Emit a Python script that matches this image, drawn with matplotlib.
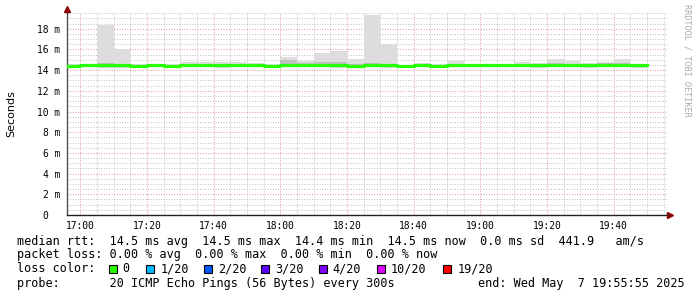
import datetime as dt
import matplotlib
matplotlib.use("Agg")
import matplotlib.pyplot as plt
from matplotlib.patches import Rectangle

# 5 minute bins (start time), values in milliseconds
bin_start = ["16:55", "17:00", "17:05", "17:10", "17:15", "17:20", "17:25", "17:30",
             "17:35", "17:40", "17:45", "17:50", "17:55", "18:00", "18:05", "18:10",
             "18:15", "18:20", "18:25", "18:30", "18:35", "18:40", "18:45", "18:50",
             "18:55", "19:00", "19:05", "19:10", "19:15", "19:20", "19:25", "19:30",
             "19:35", "19:40", "19:45"]
median = [14.4, 14.5, 14.5, 14.5, 14.4, 14.5, 14.4, 14.5, 14.5, 14.5, 14.5, 14.5,
          14.4, 14.5, 14.5, 14.5, 14.5, 14.4, 14.5, 14.5, 14.4, 14.5, 14.4, 14.5,
          14.5, 14.5, 14.5, 14.5, 14.5, 14.5, 14.5, 14.5, 14.5, 14.5, 14.5]
smoke_max = [14.6, 14.6, 18.4, 16.0, 14.6, 14.6, 14.6, 14.75, 14.8, 14.75, 14.75, 14.65,
             14.55, 15.3, 14.9, 15.65, 15.8, 15.05, 19.3, 16.5, 14.5, 14.65, 14.6, 14.9,
             14.6, 14.6, 14.6, 14.8, 14.7, 15.1, 14.9, 14.7, 14.8, 15.1, 14.6]
smoke_hi = [14.5, 14.6, 14.7, 14.6, 14.5, 14.6, 14.5, 14.6, 14.6, 14.6, 14.6, 14.6,
            14.5, 15.0, 14.7, 14.8, 14.8, 14.6, 14.7, 14.6, 14.5, 14.6, 14.5, 14.6,
            14.6, 14.6, 14.6, 14.6, 14.6, 14.7, 14.6, 14.6, 14.7, 14.7, 14.6]
smoke_lo = [14.3, 14.4, 14.3, 14.3, 14.3, 14.4, 14.3, 14.4, 14.4, 14.3, 14.4, 14.4,
            14.3, 14.4, 14.4, 14.4, 14.3, 14.3, 14.4, 14.3, 14.3, 14.4, 14.3, 14.4,
            14.4, 14.4, 14.4, 14.4, 14.3, 14.4, 14.4, 14.3, 14.4, 14.4, 14.3]
smoke_min = [14.2, 14.3, 14.2, 14.2, 14.2, 14.3, 14.2, 14.3, 14.3, 14.2, 14.3, 14.3,
             14.2, 14.3, 14.3, 14.3, 14.2, 14.2, 14.3, 14.2, 14.2, 14.3, 14.2, 14.3,
             14.3, 14.3, 14.3, 14.3, 14.2, 14.3, 14.3, 14.2, 14.3, 14.3, 14.2]
y_ticks = [0, 2, 4, 6, 8, 10, 12, 14, 16, 18]
x_ticks = ["17:00", "17:20", "17:40", "18:00", "18:20", "18:40", "19:00", "19:20", "19:40"]
loss_labels = ["0", "1/20", "2/20", "3/20", "4/20", "10/20", "19/20"]
loss_colors = ["#26ff00", "#00b8ff", "#0059ff", "#5e00ff", "#7e00ff", "#dd00ff", "#ff0000"]

day = dt.date(2025, 5, 7)
def t(s):
    parts = [int(p) for p in s.split(":")]
    while len(parts) < 3:
        parts.append(0)
    return dt.datetime(day.year, day.month, day.day, *parts)

starts = [t(s) for s in bin_start]
edges = starts + [starts[-1] + dt.timedelta(minutes=5)]
t0 = t("16:55:55")
t1 = t("19:55:55")

W, H = 697, 297
fig = plt.figure(figsize=(W / 100, H / 100), dpi=100)
L, R, T, B = 66.7, 666.7, 13.2, 215
ax = fig.add_axes([L / W, 1 - B / H, (R - L) / W, (B - T) / H])

# grid
minor_c = "#c4c4c4"
major_c = "#e49a9a"
dots = (0, (1, 1.6))
cur = t("16:55")
while cur <= t1:
    if cur >= t0:
        c = major_c if cur.minute % 20 == 0 else minor_c
        ax.axvline(cur, color=c, lw=0.72, ls=dots, zorder=0)
    cur += dt.timedelta(minutes=5)
for i in range(1, 40):
    v = i * 0.5
    c = major_c if v % 2 == 0 else minor_c
    ax.axhline(v, color=c, lw=0.72, ls=dots, zorder=0)

# smoke
for i in range(len(starts)):
    ax.fill_between([edges[i], edges[i + 1]], smoke_min[i], smoke_max[i],
                    color="#dddddd", lw=0, zorder=1)
    ax.fill_between([edges[i], edges[i + 1]], smoke_lo[i], smoke_hi[i],
                    color="#bfbfbf", lw=0, zorder=1)

# median line
ax.step(edges, median + [median[-1]], where="post", color="#26ff00", lw=2.3, zorder=3)

ax.set_xlim(t0, t1)
ax.set_ylim(0, 19.5)
ax.set_xticks([t(s) for s in x_ticks])
ax.set_xticklabels(x_ticks)
ax.set_yticks(y_ticks)
ax.set_yticklabels([("%d m" % v) if v else "0  " for v in y_ticks])
ax.tick_params(axis="both", length=0, labelsize=6.9, labelcolor="black")
ax.tick_params(axis="x", pad=4.5)
ax.tick_params(axis="y", pad=4.8)
for lab in ax.get_xticklabels() + ax.get_yticklabels():
    lab.set_family("DejaVu Sans Mono")

for sp in ["top", "right"]:
    ax.spines[sp].set_visible(False)
ax.spines["left"].set_color("#505050")
ax.spines["bottom"].set_color("#202020")
ax.spines["left"].set_linewidth(1.0)
ax.spines["bottom"].set_linewidth(1.0)
ax.plot([0, 0], [1, 1.015], transform=ax.transAxes, color="#505050", lw=1.0, clip_on=False)
ax.plot([0], [1.02], marker="^", ms=4, color="#8b0000", transform=ax.transAxes, clip_on=False)
ax.plot([1, 1.003], [0, 0], transform=ax.transAxes, color="#202020", lw=1.0, clip_on=False)
ax.plot([1.006], [0], marker=">", ms=4, color="#8b0000", transform=ax.transAxes, clip_on=False)

fig.text(11 / W, 1 - 113.5 / H, "Seconds", rotation=90, ha="center", va="center",
         fontsize=8, family="DejaVu Sans")
fig.text(686.5 / W, 1 - 60 / H, "RRDTOOL / TOBI OETIKER", rotation=270, ha="center",
         va="center", fontsize=6.1, family="DejaVu Sans Mono", color="#aaaaaa")

mono = dict(fontsize=8.45, family="DejaVu Sans Mono", va="center", ha="left")
def ptext(x, y, s):
    fig.text(x / W, 1 - y / H, s, **mono)

ptext(16.7, 241.3, "median rtt:  14.5 ms avg  14.5 ms max  14.4 ms min  14.5 ms now  0.0 ms sd  441.9   am/s")
ptext(16.7, 254.7, "packet loss: 0.00 % avg  0.00 % max  0.00 % min  0.00 % now")
ptext(16.7, 269, "loss color:")
sq_x = [108.5, 146, 203.5, 261, 318.5, 376.5, 443]
for x, lab, c in zip(sq_x, loss_labels, loss_colors):
    fig.patches.append(Rectangle((x / W, 1 - 273 / H), 8 / W, 8 / H, transform=fig.transFigure,
                                 facecolor=c, edgecolor="black", lw=0.8))
    ptext(x + 14.2, 269, lab)
ptext(16.7, 283, "probe:       20 ICMP Echo Pings (56 Bytes) every 300s")
ptext(478, 283, "end: Wed May  7 19:55:55 2025")

fig.savefig("out.png", dpi=100)
